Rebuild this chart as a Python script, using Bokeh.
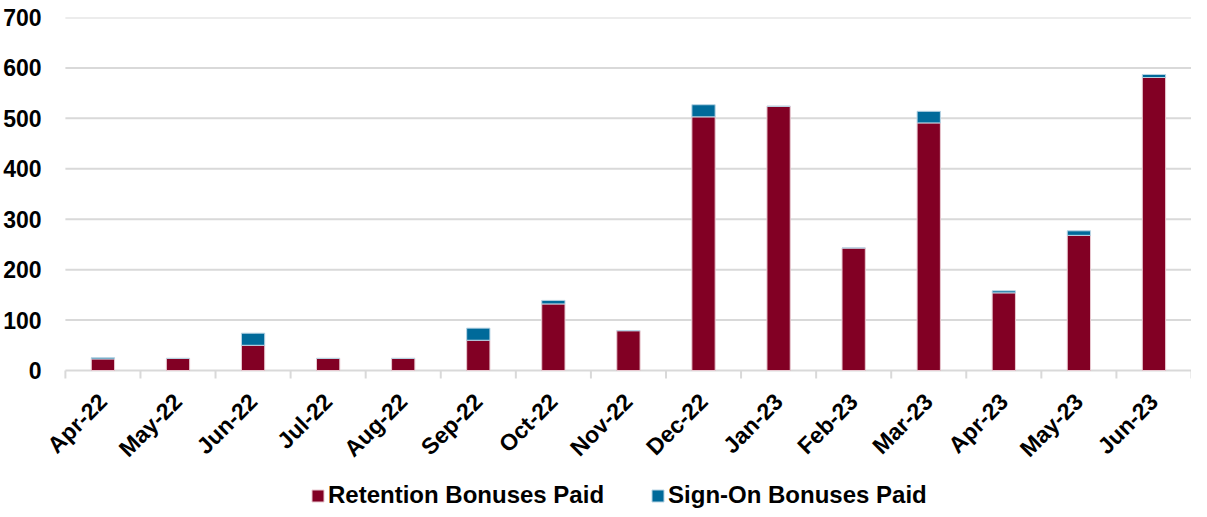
import numpy as np
from bokeh.plotting import figure
from bokeh.models import ColumnDataSource, FixedTicker, Legend, LegendItem, Range1d
from bokeh.core.properties import value
from bokeh.embed import file_html
from bokeh.resources import INLINE

months = ["Apr-22", "May-22", "Jun-22", "Jul-22", "Aug-22", "Sep-22", "Oct-22", "Nov-22",
          "Dec-22", "Jan-23", "Feb-23", "Mar-23", "Apr-23", "May-23", "Jun-23"]
retention = [23, 24, 50, 24, 24, 60, 132, 79, 503, 524, 243, 491, 154, 268, 581]
sign_on = [2.5, 0, 24, 0, 0, 24, 7, 0, 24, 0, 0, 23, 4, 9, 6]
y_ticks = [0, 100, 200, 300, 400, 500, 600, 700]

RED = "#820024"
BLUE = "#006A9A"
GRID = "#d9d9d9"
FONT = "Liberation Sans"
FS = "23px"

W, H, TOP, LEFT = 1191, 509, 17, 40
PLOT_PX = 353            # pixels between 0 and 700
YMAX = 700
PAD_PX = 18              # room left of the first category for its rotated label
frame_h = H - TOP
ymin = -(frame_h - PLOT_PX) / PLOT_PX * YMAX
px = YMAX / PLOT_PX      # data units per pixel

n = len(months)
frame_w = W - LEFT
xmin = -PAD_PX * n / (frame_w - PAD_PX)

xc = np.arange(n) + 0.5
ret = np.array(retention, dtype=float)
son = np.array(sign_on, dtype=float)
src = ColumnDataSource(dict(x=xc, r0=np.zeros(n), r1=ret, s0=ret, s1=ret + son))
lab = ColumnDataSource(dict(x=xc, y=np.zeros(n), t=months))
bounds = np.arange(n + 1, dtype=float)
yt = np.array(y_ticks, dtype=float)

p = figure(width=W, height=H, output_backend="svg", toolbar_location=None,
           x_range=Range1d(xmin, n), y_range=Range1d(ymin, YMAX), x_axis_location=None,
           min_border_left=LEFT, min_border_right=0, min_border_top=TOP, min_border_bottom=0)
p.outline_line_color = None
p.background_fill_color = "white"

# y axis
p.yaxis.ticker = FixedTicker(ticks=y_ticks)
p.yaxis.axis_line_color = None
p.yaxis.major_tick_line_color = None
p.yaxis.minor_tick_line_color = None
p.yaxis.major_label_text_font = FONT
p.yaxis.major_label_text_font_style = "bold"
p.yaxis.major_label_text_font_size = FS
p.yaxis.major_label_text_color = "black"
p.yaxis.major_label_standoff = 0

p.xgrid.grid_line_color = None
p.ygrid.grid_line_color = None

# horizontal gridlines over the category span (the 0 line doubles as the axis line)
p.segment(x0=np.zeros(len(yt)), y0=yt, x1=np.full(len(yt), float(n)), y1=yt,
          line_color=GRID, line_width=2)
# category boundary ticks under the axis line
p.segment(x0=bounds, y0=np.zeros(n + 1), x1=bounds, y1=np.full(n + 1, -8 * px),
          line_color=GRID, line_width=2)

rr = p.vbar(x="x", bottom="r0", top="r1", width=0.31, source=src,
            fill_color=RED, line_color="#e8c8d0", line_width=1)
sr = p.vbar(x="x", bottom="s0", top="s1", width=0.31, source=src,
            fill_color=BLUE, line_color="#b8d4e4", line_width=1)

# rotated category labels
p.text(x="x", y="y", text="t", source=lab, angle=np.pi / 4,
       text_align="right", text_baseline="middle", x_offset=0, y_offset=27,
       text_font=value(FONT), text_font_style="bold", text_font_size=FS,
       text_color="black")

legend = Legend(items=[LegendItem(label="Retention Bonuses Paid", renderers=[rr]),
                       LegendItem(label="Sign-On Bonuses Paid", renderers=[sr])],
                orientation="horizontal", location=(311 - 8 - LEFT, 0),
                label_text_font=FONT, label_text_font_style="bold",
                label_text_font_size="24px", label_text_color="black",
                glyph_width=15, glyph_height=15, label_standoff=3, spacing=46,
                border_line_color=None, background_fill_alpha=0,
                margin=0, padding=0)
p.add_layout(legend, "center")

open("out.html", "w").write(file_html(p, INLINE))
